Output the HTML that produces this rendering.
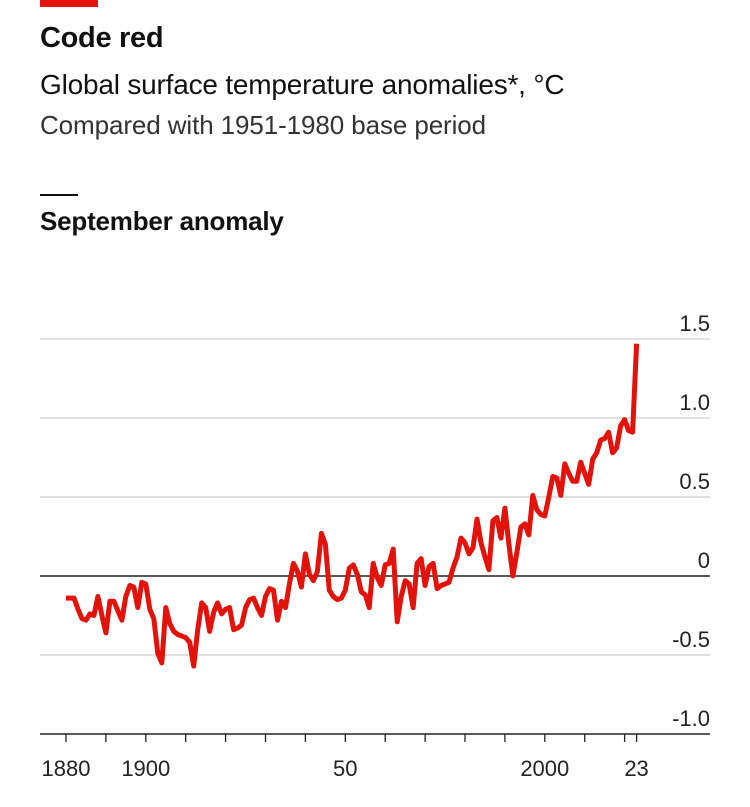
<!DOCTYPE html>
<html><head><meta charset="utf-8"><style>
body{margin:0;background:#fff;width:750px;height:807px;overflow:hidden;font-family:"Liberation Sans",sans-serif;}
.t{position:absolute;left:40px;white-space:nowrap;color:#111;}
</style></head><body>
<div style="position:absolute;left:40px;top:0;width:58px;height:7px;background:#e3120b"></div>
<div class="t" style="top:22px;font-size:29px;font-weight:bold;letter-spacing:-0.3px">Code red</div>
<div class="t" style="top:69px;font-size:28px;letter-spacing:-0.2px">Global surface temperature anomalies*, °C</div>
<div class="t" style="top:110px;font-size:26px;color:#333;letter-spacing:-0.1px">Compared with 1951-1980 base period</div>
<div style="position:absolute;left:40px;top:194px;width:38px;height:2px;background:#111"></div>
<div class="t" style="top:206px;font-size:26px;font-weight:bold;letter-spacing:-0.2px">September anomaly</div>
<svg id="c" width="750" height="807" style="position:absolute;left:0;top:0"></svg>
<script>
const startYear=1880;
const values=[-0.14,-0.14,-0.14,-0.21,-0.27,-0.28,-0.24,-0.25,-0.13,-0.25,-0.36,-0.16,-0.16,-0.22,-0.28,-0.13,-0.06,-0.07,-0.2,-0.04,
-0.05,-0.21,-0.27,-0.49,-0.55,-0.2,-0.3,-0.35,-0.37,-0.38,-0.39,-0.42,-0.57,-0.34,-0.17,-0.2,-0.35,-0.23,-0.17,-0.24,
-0.21,-0.2,-0.34,-0.33,-0.31,-0.2,-0.15,-0.14,-0.2,-0.25,-0.13,-0.08,-0.09,-0.28,-0.16,-0.2,-0.05,0.08,0.03,-0.07,
0.14,0.01,-0.03,0.03,0.27,0.2,-0.09,-0.13,-0.15,-0.14,-0.09,0.05,0.07,0.01,-0.1,-0.12,-0.2,0.08,-0.01,-0.06,
0.07,0.08,0.17,-0.29,-0.13,-0.03,-0.05,-0.2,0.08,0.11,-0.06,0.06,0.08,-0.08,-0.06,-0.05,-0.04,0.05,0.12,0.24,
0.21,0.14,0.18,0.36,0.21,0.12,0.04,0.35,0.37,0.24,0.43,0.2,0.0,0.15,0.31,0.33,0.26,0.51,0.42,0.39,
0.38,0.5,0.63,0.62,0.51,0.71,0.65,0.6,0.6,0.72,0.65,0.58,0.74,0.78,0.86,0.87,0.91,0.78,0.81,0.95,
0.99,0.92,0.91,1.47];
const yTicks=[1.5,1.0,0.5,0,-0.5,-1.0];
const yTickLabels=["1.5","1.0","0.5","0","-0.5","-1.0"];
const xLabelYears=[1880,1900,1950,2000,2023];
const xLabels=["1880","1900","50","2000","23"];
const NS="http://www.w3.org/2000/svg";
const svg=document.getElementById('c');
const x=yr=>66+(yr-1880)*3.99;
const y=v=>576-v*158;
function el(t,a){const e=document.createElementNS(NS,t);for(const k in a)e.setAttribute(k,a[k]);svg.appendChild(e);return e;}
yTicks.forEach((v,i)=>{
 const l=el('line',{x1:40,x2:710,y1:y(v),y2:y(v),stroke:v===0?'#222':(v===-1?'#222':'#d6d6d6'),'stroke-width':v===0||v===-1?1.6:1.5});
 
 
 const t=el('text',{x:710,y:y(v)-8,'text-anchor':'end','font-size':22,fill:'#222','font-family':'Liberation Sans, sans-serif'});
 t.textContent=yTickLabels[i];
 
 
});
for(let yr=1880;yr<=2020;yr+=10){
 const tk=el('line',{x1:x(yr),x2:x(yr),y1:y(-1),y2:y(-1)+8,stroke:'#222','stroke-width':1.3});
 
 
}
const t23=el('line',{x1:x(2023),x2:x(2023),y1:y(-1),y2:y(-1)+8,stroke:'#222','stroke-width':1.3});


xLabelYears.forEach((yr,i)=>{
 const t=el('text',{x:x(yr),y:776,'text-anchor':'middle','font-size':22,fill:'#222','font-family':'Liberation Sans, sans-serif'});
 t.textContent=xLabels[i];
 
 
});
const pts=values.map((v,i)=>x(startYear+i).toFixed(1)+','+y(v).toFixed(1)).join(' ');
const pl=el('polyline',{points:pts,fill:'none',stroke:'#e3120b','stroke-width':5,'stroke-linejoin':'round'});


</script>
</body></html>
